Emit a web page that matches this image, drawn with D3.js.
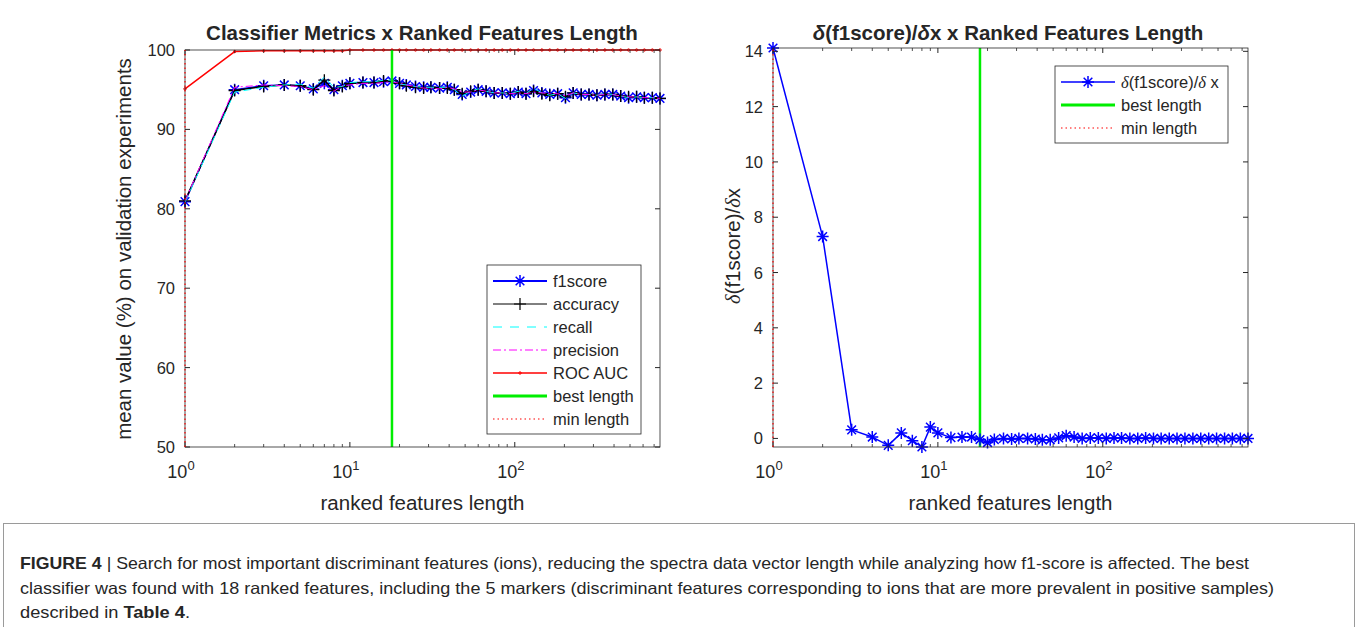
<!DOCTYPE html>
<html>
<head>
<meta charset="utf-8">
<script src="https://cdn.jsdelivr.net/npm/d3@7"></script>
<style>
  body { margin: 0; background: #fff; }
  text { font-family: "Liberation Sans", Arial, sans-serif; fill: #262626; }
</style>
</head>
<body>
<script>
// ranked features length (x values of every curve)
var xLen = [1, 2, 3, 4, 5, 6, 7, 8, 9, 10, 12, 14, 16, 18, 20, 22, 25, 28, 31, 35, 39, 43, 48, 54, 60,
    67, 75, 84, 94, 105, 117, 130, 146, 163, 182, 203, 226, 253, 282, 315, 352, 393, 439, 490, 548, 611, 683, 760];

var f1score = [80.9, 95.0, 95.5, 95.6, 95.5, 95.1, 95.8, 95.0, 95.5, 95.8, 95.9, 95.9, 96.0, 96.1, 95.8, 95.6, 95.4,
    95.3, 95.3, 95.2, 95.3, 95.0, 94.4, 94.7, 95.0, 94.8, 94.6, 94.6, 94.5, 94.7, 94.5, 94.9, 94.6, 94.4, 94.5,
    94.0, 94.6, 94.4, 94.4, 94.3, 94.4, 94.4, 94.2, 94.0, 94.1, 94.0, 94.0, 93.9];
var accuracy = [81.0, 94.9, 95.4, 95.6, 95.5, 95.0, 96.2, 94.9, 95.4, 95.8, 95.9, 95.9, 96.1, 96.1, 95.8, 95.5, 95.3,
    95.2, 95.3, 95.2, 95.2, 95.0, 94.5, 94.8, 95.0, 94.8, 94.6, 94.6, 94.5, 94.7, 94.5, 94.8, 94.5, 94.3, 94.5,
    94.1, 94.6, 94.4, 94.4, 94.3, 94.4, 94.4, 94.2, 94.1, 94.1, 94.0, 94.0, 93.9];
var recall = [80.8, 94.7, 95.3, 95.6, 95.7, 95.2, 96.6, 95.3, 95.4, 95.9, 96.0, 96.0, 96.2, 96.2, 95.7, 95.6, 95.4,
    95.3, 95.3, 95.3, 95.3, 95.0, 94.2, 94.8, 95.1, 94.8, 94.6, 94.6, 94.5, 94.8, 94.5, 95.2, 94.6, 94.3, 94.5,
    93.9, 94.6, 94.4, 94.4, 94.3, 94.5, 94.4, 94.2, 94.0, 94.1, 94.0, 94.0, 93.9];
var precision = [81.0, 95.3, 95.6, 95.5, 95.4, 95.0, 95.5, 94.8, 95.5, 95.6, 95.8, 95.8, 95.9, 96.0, 95.8, 95.6, 95.4,
    95.2, 95.2, 95.1, 95.3, 95.1, 94.7, 94.7, 95.0, 94.8, 94.6, 94.6, 94.5, 94.6, 94.5, 94.7, 94.6, 94.5, 94.5,
    94.2, 94.6, 94.4, 94.4, 94.3, 94.4, 94.4, 94.2, 94.1, 94.1, 94.0, 94.0, 93.9];
var rocAuc = [95.1, 99.8, 99.9, 99.9, 99.9, 99.9, 99.9, 99.9, 99.9, 100, 100, 100, 100, 100, 100, 100, 100,
    100, 100, 100, 100, 100, 100, 100, 100, 100, 100, 100, 100, 100, 100, 100, 100, 100, 100,
    100, 100, 100, 100, 100, 100, 100, 100, 100, 100, 100, 100, 100];
var dF1 = [14.12, 7.3, 0.31, 0.05, -0.25, 0.2, -0.08, -0.31, 0.41, 0.2, 0.03, 0.05, 0.05, -0.04, -0.15, -0.04, 0.0,
    -0.02, 0.0, 0.0, -0.02, -0.05, -0.05, 0.02, 0.1, 0.05, 0.0, 0.02, 0.02, 0.0, 0.02, 0.02, 0.0, 0.0, 0.02,
    0.0, 0.0, 0.0, 0.0, 0.0, 0.0, 0.0, 0.0, 0.0, 0.0, 0.0, 0.0, 0.0];

var bestLength = 18;
var minLength = 1;
var xMax = 760;

var leftYTicks = [50, 60, 70, 80, 90, 100];
var rightYTicks = [0, 2, 4, 6, 8, 10, 12, 14];
var xMajor = [1, 10, 100];
var xMinor = [2, 3, 4, 5, 6, 7, 8, 9, 20, 30, 40, 50, 60, 70, 80, 90, 200, 300, 400, 500, 600, 700];

var captionLines = [
    [["FIGURE 4", true], [" | Search for most important discriminant features (ions), reducing the spectra data vector length while analyzing how f1-score is affected. The best", false]],
    [["classifier was found with 18 ranked features, including the 5 markers (discriminant features corresponding to ions that are more prevalent in positive samples)", false]],
    [["described in ", false], ["Table 4", true], [".", false]]
];

var w = 1358, h = 627;
var axisColor = "#262626";

var svg = d3.select("body").append("svg")
    .attr("width", w)
    .attr("height", h);

function starPath(r) {
    var d = r * 0.72;
    return "M" + (-r) + ",0H" + r + "M0," + (-r) + "V" + r +
        "M" + (-d) + "," + (-d) + "L" + d + "," + d + "M" + (-d) + "," + d + "L" + d + "," + (-d);
}
function plusPath(r) {
    return "M" + (-r) + ",0H" + r + "M0," + (-r) + "V" + r;
}

// draws the box, ticks and labels of one MATLAB-like axes
function drawFrame(g, x, y, yTicks) {
    var x0 = x.range()[0], x1 = x.range()[1];
    var y0 = y.range()[0], y1 = y.range()[1];

    g.append("rect")
        .attr("x", x0).attr("y", y1)
        .attr("width", x1 - x0).attr("height", y0 - y1)
        .attr("fill", "none")
        .attr("stroke", axisColor)
        .attr("stroke-width", 0.8);

    yTicks.forEach(function (t) {
        g.append("line").attr("x1", x0).attr("x2", x0 + 5)
            .attr("y1", y(t)).attr("y2", y(t)).attr("stroke", axisColor);
        g.append("line").attr("x1", x1).attr("x2", x1 - 5)
            .attr("y1", y(t)).attr("y2", y(t)).attr("stroke", axisColor);
        g.append("text")
            .attr("x", x0 - 10).attr("y", y(t) + 6)
            .attr("text-anchor", "end")
            .attr("font-size", "16.5px")
            .text(t);
    });

    xMinor.forEach(function (t) {
        g.append("line").attr("x1", x(t)).attr("x2", x(t))
            .attr("y1", y0).attr("y2", y0 - 3).attr("stroke", axisColor).attr("stroke-width", 0.8);
        g.append("line").attr("x1", x(t)).attr("x2", x(t))
            .attr("y1", y1).attr("y2", y1 + 3).attr("stroke", axisColor).attr("stroke-width", 0.8);
    });
    xMajor.forEach(function (t, i) {
        g.append("line").attr("x1", x(t)).attr("x2", x(t))
            .attr("y1", y0).attr("y2", y0 - 5).attr("stroke", axisColor);
        g.append("line").attr("x1", x(t)).attr("x2", x(t))
            .attr("y1", y1).attr("y2", y1 + 5).attr("stroke", axisColor);
        var lab = g.append("text")
            .attr("x", x(t) - 4).attr("y", 478)
            .attr("text-anchor", "middle")
            .attr("font-size", "18px");
        lab.append("tspan").text("10");
        lab.append("tspan").attr("font-size", "13px").attr("dy", -8).text(i);
    });

    g.append("text")
        .attr("x", (x0 + x1) / 2).attr("y", 510)
        .attr("text-anchor", "middle")
        .attr("font-size", "20.5px")
        .text("ranked features length");
}

function drawLine(g, x, y, vals, color, width, dash) {
    var line = d3.line()
        .x(function (d, i) { return x(xLen[i]); })
        .y(function (d) { return y(d); });
    g.append("path")
        .datum(vals)
        .attr("d", line)
        .attr("fill", "none")
        .attr("stroke", color)
        .attr("stroke-width", width)
        .attr("stroke-dasharray", dash || null)
        .attr("stroke-linejoin", "round");
}

function drawMarkers(g, x, y, vals, pathStr, color, width) {
    g.selectAll(null)
        .data(vals)
        .enter().append("path")
        .attr("transform", function (d, i) { return "translate(" + x(xLen[i]) + "," + y(d) + ")"; })
        .attr("d", pathStr)
        .attr("fill", "none")
        .attr("stroke", color)
        .attr("stroke-width", width);
}

function vLine(g, x, y, xv, color, width, dash) {
    g.append("line")
        .attr("x1", x(xv)).attr("x2", x(xv))
        .attr("y1", y.range()[0]).attr("y2", y.range()[1])
        .attr("stroke", color)
        .attr("stroke-width", width)
        .attr("stroke-dasharray", dash || null);
}

// legend rows: [label (array of [text, italic]), drawer]
function drawLegend(g, lx, ly, lw, rowH, rows) {
    g.append("rect")
        .attr("x", lx).attr("y", ly)
        .attr("width", lw).attr("height", rowH * rows.length + 8)
        .attr("fill", "#fff")
        .attr("stroke", axisColor)
        .attr("stroke-width", 0.8);
    rows.forEach(function (r, i) {
        var cy = ly + 16 + i * rowH;
        r.draw(g, lx + 6, lx + 60, cy);
        var t = g.append("text")
            .attr("x", lx + 66).attr("y", cy + 6)
            .attr("font-size", "16.5px");
        r.label.forEach(function (p) {
            var s = t.append("tspan").text(p[0]);
            if (p[1]) s.attr("font-family", "'Liberation Serif', serif").attr("font-style", "italic");
        });
    });
}

function legLine(color, width, dash, marker, mColor, mWidth) {
    return function (g, a, b, cy) {
        g.append("line").attr("x1", a).attr("x2", b).attr("y1", cy).attr("y2", cy)
            .attr("stroke", color).attr("stroke-width", width)
            .attr("stroke-dasharray", dash || null);
        if (marker) {
            g.append("path").attr("d", marker)
                .attr("transform", "translate(" + ((a + b) / 2) + "," + cy + ")")
                .attr("fill", mColor || "none")
                .attr("stroke", mColor || color).attr("stroke-width", mWidth || 1);
        }
    };
}

// ---------- left chart ----------
var xL = d3.scaleLog().domain([1, xMax]).range([185, 660]);
var yL = d3.scaleLinear().domain([50, 100]).range([447, 50]);
var gL = svg.append("g");

drawLine(gL, xL, yL, f1score, "#0000ff", 1.5);
drawMarkers(gL, xL, yL, f1score, starPath(6), "#0000ff", 1.5);
drawLine(gL, xL, yL, accuracy, "#000000", 1.5);
drawMarkers(gL, xL, yL, accuracy, plusPath(6), "#000000", 1.3);
drawLine(gL, xL, yL, recall, "#00ffff", 1, "8,5");
drawLine(gL, xL, yL, precision, "#ff00ff", 1, "7,3,2,3");
drawLine(gL, xL, yL, rocAuc, "#ff0000", 1.5);
drawMarkers(gL, xL, yL, rocAuc, "M-1.2,0a1.2,1.2 0 1,0 2.4,0a1.2,1.2 0 1,0 -2.4,0", "#ff0000", 1);
vLine(gL, xL, yL, bestLength, "#00ee00", 2.5);
drawFrame(gL, xL, yL, leftYTicks);
vLine(gL, xL, yL, minLength, "#ff0000", 1.2, "1.5,3");

gL.append("text")
    .attr("x", 422).attr("y", 40)
    .attr("text-anchor", "middle")
    .attr("font-size", "20.5px")
    .attr("font-weight", "bold")
    .attr("fill", "#000")
    .text("Classifier Metrics x Ranked Features Length");

gL.append("text")
    .attr("transform", "translate(131,249) rotate(-90)")
    .attr("text-anchor", "middle")
    .attr("font-size", "20.5px")
    .text("mean value (%) on validation experiments");

drawLegend(gL, 487, 265, 154, 23, [
    {label: [["f1score"]], draw: legLine("#0000ff", 2, null, starPath(6), null, 1.5)},
    {label: [["accuracy"]], draw: legLine("#000000", 1, null, plusPath(6), null, 1.2)},
    {label: [["recall"]], draw: legLine("#00ffff", 1, "9,8")},
    {label: [["precision"]], draw: legLine("#ff00ff", 1, "8,3,2,3")},
    {label: [["ROC AUC"]], draw: legLine("#ff0000", 1.5, null, "M-1.2,0a1.2,1.2 0 1,0 2.4,0a1.2,1.2 0 1,0 -2.4,0", null, 1)},
    {label: [["best length"]], draw: legLine("#00ee00", 3)},
    {label: [["min length"]], draw: legLine("#ff0000", 1.2, "1.5,3")}
]);

// ---------- right chart ----------
var xR = d3.scaleLog().domain([1, xMax]).range([773, 1248]);
var yR = d3.scaleLinear().domain([-0.31, 14.12]).range([447, 48]);
var gR = svg.append("g");

vLine(gR, xR, yR, bestLength, "#00ee00", 2.5);
drawLine(gR, xR, yR, dF1, "#0000ff", 1.5);
drawMarkers(gR, xR, yR, dF1, starPath(6), "#0000ff", 1.5);
drawFrame(gR, xR, yR, rightYTicks);
vLine(gR, xR, yR, minLength, "#ff0000", 1.2, "1.5,3");

var tR = gR.append("text")
    .attr("x", 1008).attr("y", 40)
    .attr("text-anchor", "middle")
    .attr("font-size", "20.5px")
    .attr("font-weight", "bold")
    .attr("fill", "#000");
tR.append("tspan").attr("font-style", "italic").text("δ");
tR.append("tspan").text("(f1score)/");
tR.append("tspan").attr("font-style", "italic").text("δ");
tR.append("tspan").text("x x Ranked Features Length");

var yLab = gR.append("text")
    .attr("transform", "translate(740,246) rotate(-90)")
    .attr("text-anchor", "middle")
    .attr("font-size", "20.5px");
yLab.append("tspan").attr("font-family", "'Liberation Serif', serif").attr("font-style", "italic").text("δ");
yLab.append("tspan").text("(f1score)/");
yLab.append("tspan").attr("font-family", "'Liberation Serif', serif").attr("font-style", "italic").text("δ");
yLab.append("tspan").text("x");

drawLegend(gR, 1055, 66, 173, 23, [
    {label: [["δ", true], ["(f1score)/"], ["δ", true], [" x"]], draw: legLine("#0000ff", 1.5, null, starPath(6), null, 1.5)},
    {label: [["best length"]], draw: legLine("#00ee00", 3)},
    {label: [["min length"]], draw: legLine("#ff0000", 1.2, "1.5,3")}
]);

// ---------- caption ----------
svg.append("rect")
    .attr("x", 3.5).attr("y", 523.5)
    .attr("width", 1351).attr("height", 110)
    .attr("fill", "none")
    .attr("stroke", "#9a9a9a")
    .attr("stroke-width", 1);

var capLen = [1229, 1254, 170];
captionLines.forEach(function (parts, i) {
    var t = svg.append("text")
        .attr("x", 20).attr("y", 569 + i * 24.5)
        .attr("font-size", "16.5px")
        .attr("textLength", capLen[i])
        .attr("lengthAdjust", "spacingAndGlyphs")
        .attr("fill", "#231f20");
    parts.forEach(function (p) {
        var s = t.append("tspan").text(p[0]);
        if (p[1]) s.attr("font-weight", "bold");
    });
});
</script>
</body>
</html>
